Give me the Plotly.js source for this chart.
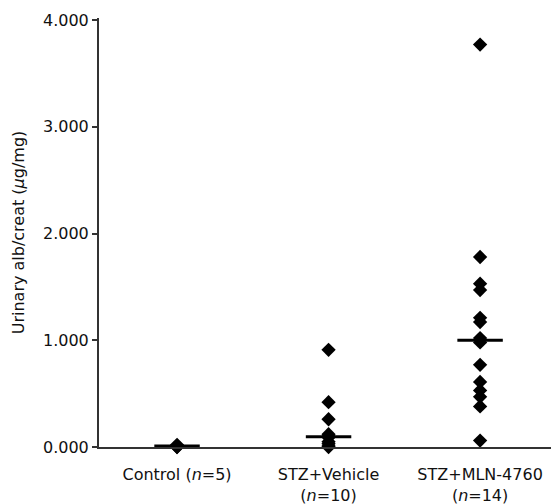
<!DOCTYPE html>
<html>
<head>
<meta charset="utf-8">
<script src="https://cdn.plot.ly/plotly-3.0.1.min.js"></script>
<style>html,body{margin:0;padding:0;background:#fff;}#chart{width:551px;height:504px;}</style>
</head>
<body>
<div id="chart"></div>
<script>
var categories = ["Control (<i>n</i>=5)", "STZ+Vehicle<br>(<i>n</i>=10)", "STZ+MLN-4760<br>(<i>n</i>=14)"];
var controlValues = [0.02, 0.01, 0.01, 0.00, 0.00];
var vehicleValues = [0.91, 0.42, 0.26, 0.12, 0.10, 0.09, 0.05, 0.03, 0.01, 0.00];
var mlnValues = [3.77, 1.78, 1.53, 1.47, 1.21, 1.17, 1.02, 0.98, 0.77, 0.61, 0.53, 0.47, 0.38, 0.06];
var medians = [0.01, 0.095, 1.00];
var yTickVals = [0, 1, 2, 3, 4];
var yTickText = ["0.000", "1.000", "2.000", "3.000", "4.000"];

var groups = [controlValues, vehicleValues, mlnValues];
var traces = [];
var halfWidth = 0.15;
groups.forEach(function(vals, i){
  traces.push({
    type: 'scatter', mode: 'markers',
    x: vals.map(function(){return i;}), y: vals,
    marker: {symbol: 'diamond', size: 11, color: '#000'},
    cliponaxis: false, showlegend: false, hoverinfo: 'y'
  });
});
medians.forEach(function(m, i){
  traces.push({
    type: 'scatter', mode: 'lines',
    x: [i - halfWidth, i + halfWidth], y: [m, m],
    line: {color: '#000', width: 3},
    cliponaxis: false, showlegend: false, hoverinfo: 'skip'
  });
});

var font = {family: '"DejaVu Sans", sans-serif', size: 16, color: '#111'};
var layout = {
  width: 551, height: 504,
  margin: {l: 99, r: 0, t: 18, b: 57},
  paper_bgcolor: '#fff', plot_bgcolor: '#fff',
  font: font,
  showlegend: false,
  xaxis: {
    range: [-0.515, 2.468],
    tickvals: [0, 1, 2], ticktext: categories,
    showgrid: false, zeroline: false,
    showline: true, linecolor: '#333', linewidth: 2,
    ticks: '', tickfont: font, ticklabelstandoff: 12
  },
  yaxis: {
    range: [0, 4.019],
    tickvals: yTickVals, ticktext: yTickText,
    showgrid: false, zeroline: false,
    showline: true, linecolor: '#333', linewidth: 2,
    ticks: 'outside', ticklen: 5, tickwidth: 2, tickcolor: '#333',
    tickfont: font, ticklabelstandoff: 0,
    title: {text: 'Urinary alb/creat (<i>μ</i>g/mg)', font: font, standoff: 14}
  }
};
Plotly.newPlot('chart', traces, layout, {displayModeBar: false, staticPlot: true});
</script>
</body>
</html>
